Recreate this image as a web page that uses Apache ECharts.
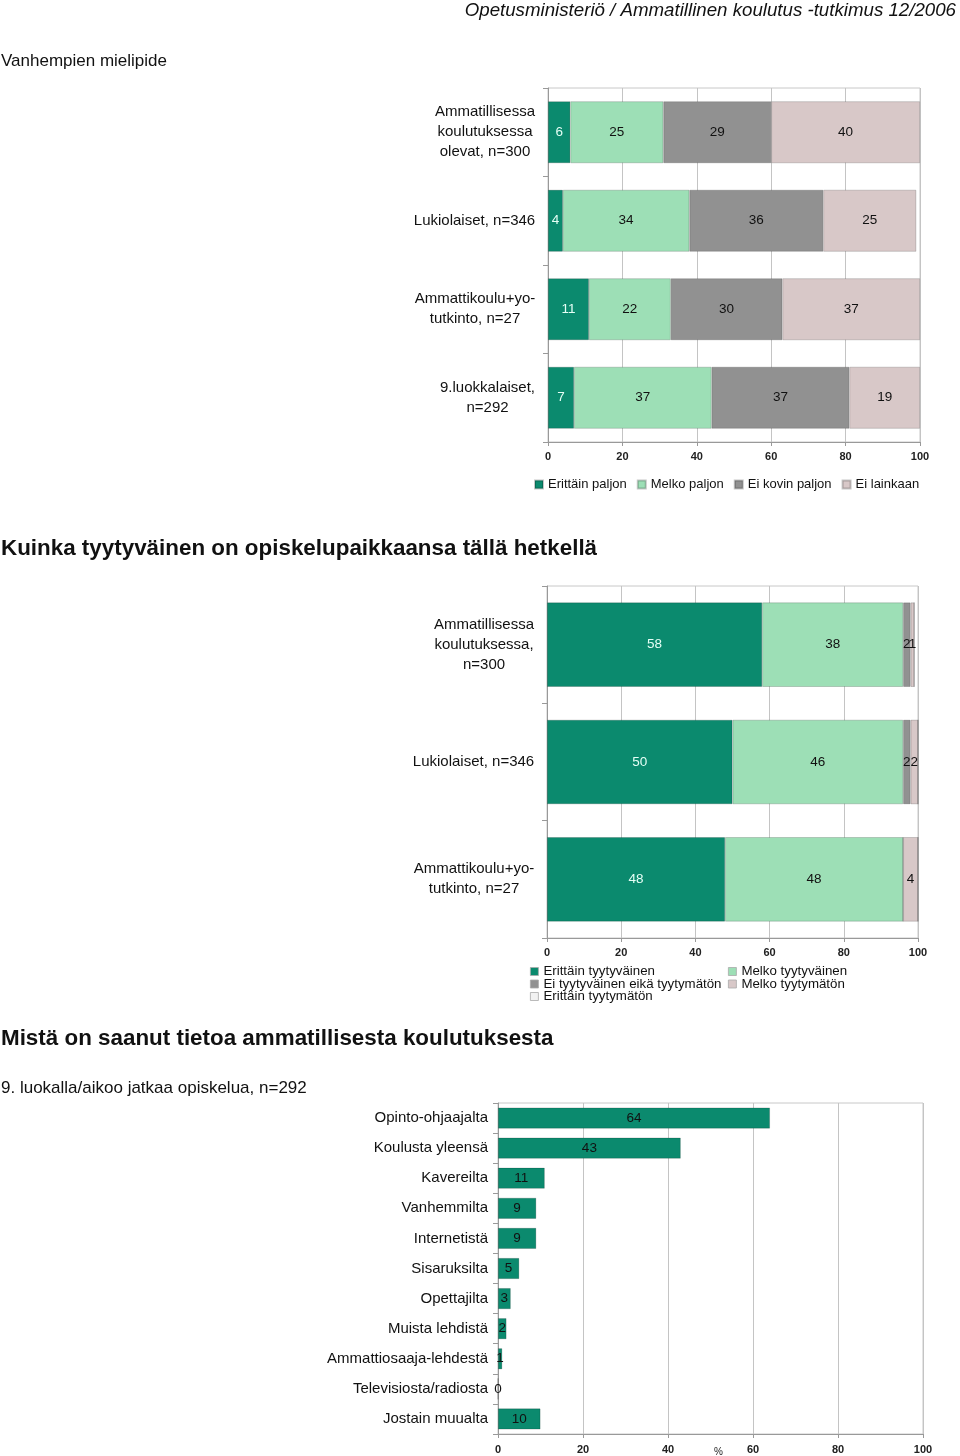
<!DOCTYPE html>
<html><head><meta charset="utf-8">
<script src="https://cdn.jsdelivr.net/npm/echarts@6/dist/echarts.min.js"></script>
<style>html,body{margin:0;padding:0;background:#fff}#c{width:960px;height:1456px}</style>
</head><body><div id="c"></div>
<script>
// ---- Chart 1: Vanhempien mielipide ----
const cats1 = ['Ammatillisessa\nkoulutuksessa\nolevat, n=300', 'Lukiolaiset, n=346', 'Ammattikoulu+yo-\ntutkinto, n=27', '9.luokkalaiset,\nn=292'];
const names1 = ['Erittäin paljon', 'Melko paljon', 'Ei kovin paljon', 'Ei lainkaan'];
const erittainPaljon = [6, 4, 11, 7];
const melkoPaljon = [25, 34, 22, 37];
const eiKovinPaljon = [29, 36, 30, 37];
const eiLainkaan = [40, 25, 37, 19];

// ---- Chart 2: Kuinka tyytyväinen ----
const cats2 = ['Ammatillisessa\nkoulutuksessa,\nn=300', 'Lukiolaiset, n=346', 'Ammattikoulu+yo-\ntutkinto, n=27'];
const names2 = ['Erittäin tyytyväinen', 'Melko tyytyväinen', 'Ei tyytyväinen eikä tyytymätön', 'Melko tyytymätön', 'Erittäin tyytymätön'];
const erittainTyytyvainen = [58, 50, 48];
const melkoTyytyvainen = [38, 46, 48];
const eiTyytyvainenEika = [2, 2, 0];
const melkoTyytymaton = [1, 2, 4];
const erittainTyytymaton = [0, 0, 0];

// ---- Chart 3: Mistä on saanut tietoa ----
const cats3 = ['Opinto-ohjaajalta', 'Koulusta yleensä', 'Kavereilta', 'Vanhemmilta', 'Internetistä', 'Sisaruksilta', 'Opettajilta', 'Muista lehdistä', 'Ammattiosaaja-lehdestä', 'Televisiosta/radiosta', 'Jostain muualta'];
const vals3 = [64, 43, 11, 9, 9, 5, 3, 2, 1, 0, 10];

const FONT = '"Liberation Sans", Arial, Helvetica, sans-serif';
const colors = ['#0b8a6e', '#9ddfb6', '#919191', '#d8c8c8', '#f2f2f2'];

// measure text to center multi-line labels
const cv = document.createElement('canvas').getContext('2d');
cv.font = '15px ' + FONT;
function richFor(cats, prefix) {
  const rich = {};
  cats.forEach((c, i) => {
    const w = Math.max(...c.split('\n').map(l => cv.measureText(l).width));
    rich[prefix + i] = { width: Math.ceil(w) + 1, align: 'center', fontSize: 15, lineHeight: 20, color: '#111', fontFamily: FONT };
  });
  return rich;
}
function fmtFor(cats, prefix) {
  return (v, i) => v.split('\n').map(l => '{' + prefix + i + '|' + l + '}').join('\n');
}

const chart = echarts.init(document.getElementById('c'), null, { renderer: 'canvas' });

function valAxis(gi, extra, margin) {
  return Object.assign({
    type: 'value', gridIndex: gi, min: 0, max: 100, interval: 20,
    axisLine: { show: true, lineStyle: { color: '#999' } },
    axisTick: { show: true, length: 4, lineStyle: { color: '#999' } },
    splitLine: { show: true, lineStyle: { color: '#c4c4c4' } },
    axisLabel: { fontFamily: FONT, fontSize: 11, fontWeight: 'bold', color: '#222', margin: margin || 9 }
  }, extra || {});
}
function catAxis(gi, cats, rich, fmt, margin) {
  return {
    type: 'category', gridIndex: gi, data: cats, inverse: true,
    axisLine: { show: true, lineStyle: { color: '#999' } },
    axisTick: { show: true, length: 5, lineStyle: { color: '#999' } },
    axisLabel: { margin: margin, align: 'right', formatter: fmt, rich: rich, fontSize: 15, fontFamily: FONT, color: '#111' }
  };
}

const lblDark = { show: true, position: 'inside', fontFamily: FONT, fontSize: 13.5, color: '#111',
  formatter: p => p.value === 0 ? '' : String(p.value) };
const lblLight = Object.assign({}, lblDark, { color: '#e6fff6' });
const border = { borderColor: 'rgba(0,0,0,0.22)', borderWidth: 0.8 };

const series = [];
[erittainPaljon, melkoPaljon, eiKovinPaljon, eiLainkaan].forEach((d, i) => {
  series.push({ name: names1[i], type: 'bar', stack: 's1', xAxisIndex: 0, yAxisIndex: 0, data: d,
    barCategoryGap: '30%', itemStyle: Object.assign({ color: colors[i] }, border),
    label: i === 0 ? lblLight : lblDark });
});
[erittainTyytyvainen, melkoTyytyvainen, eiTyytyvainenEika, melkoTyytymaton, erittainTyytymaton].forEach((d, i) => {
  series.push({ name: names2[i], type: 'bar', stack: 's2', xAxisIndex: 1, yAxisIndex: 1, data: d,
    barCategoryGap: '28%', itemStyle: Object.assign({ color: colors[i] }, border),
    label: i === 0 ? lblLight : lblDark });
});
series.push({ name: 'Mistä', type: 'bar', xAxisIndex: 2, yAxisIndex: 2, data: vals3,
  barCategoryGap: '30%', itemStyle: Object.assign({ color: colors[0] }, border),
  label: { show: true, position: 'inside', fontFamily: FONT, fontSize: 13.5, color: '#111' } });

const legendText = { fontFamily: FONT, fontSize: 13, color: '#111' };
const option = {
  animation: false,
  backgroundColor: '#fff',
  textStyle: { fontFamily: FONT },
  title: [
    { text: 'Opetusministeriö / Ammatillinen koulutus -tutkimus 12/2006', right: 4, top: 1, padding: 0,
      textStyle: { fontFamily: FONT, fontSize: 18.7, fontStyle: 'italic', fontWeight: 'normal', color: '#111' } },
    { text: 'Vanhempien mielipide', left: 1, top: 53, padding: 0,
      textStyle: { fontFamily: FONT, fontSize: 17, fontWeight: 'normal', color: '#111' } },
    { text: 'Kuinka tyytyväinen on opiskelupaikkaansa tällä hetkellä', left: 1, top: 538, padding: 0,
      textStyle: { fontFamily: FONT, fontSize: 22.4, fontWeight: 'bold', color: '#111' } },
    { text: 'Mistä on saanut tietoa ammatillisesta koulutuksesta', left: 1, top: 1028, padding: 0,
      textStyle: { fontFamily: FONT, fontSize: 22.4, fontWeight: 'bold', color: '#111' } },
    { text: '9. luokalla/aikoo jatkaa opiskelua, n=292', left: 1, top: 1080, padding: 0,
      textStyle: { fontFamily: FONT, fontSize: 17, fontWeight: 'normal', color: '#111' } }
  ],
  legend: [
    { data: names1, left: 534, top: 478, itemWidth: 8, itemHeight: 8, itemGap: 10, padding: 0,
      icon: 'rect', textStyle: legendText },
    { data: [names2[0], names2[2], names2[4]], orient: 'vertical', left: 530, top: 965, itemWidth: 8, itemHeight: 8,
      itemGap: -0.5, padding: 0, icon: 'rect', textStyle: Object.assign({}, legendText, { fontSize: 13.3, lineHeight: 12 }),
      itemStyle: { borderColor: '#aaa', borderWidth: 0.8 } },
    { data: [names2[1], names2[3]], orient: 'vertical', left: 728, top: 965, itemWidth: 8, itemHeight: 8,
      itemGap: -0.5, padding: 0, icon: 'rect', textStyle: Object.assign({}, legendText, { fontSize: 13.3, lineHeight: 12 }),
      itemStyle: { borderColor: '#aaa', borderWidth: 0.8 } }
  ],
  grid: [
    { left: 548, top: 88, width: 372, height: 354, show: true, borderColor: '#c8c8c8', borderWidth: 1, outerBoundsMode: 'none', containLabel: false },
    { left: 547, top: 586, width: 371, height: 352, show: true, borderColor: '#c8c8c8', borderWidth: 1, outerBoundsMode: 'none', containLabel: false },
    { left: 498, top: 1103, width: 425, height: 331, show: true, borderColor: '#c8c8c8', borderWidth: 1, outerBoundsMode: 'none', containLabel: false }
  ],
  xAxis: [
    valAxis(0),
    valAxis(1),
    valAxis(2, { name: '%', nameLocation: 'middle', nameGap: 13, nameMoveOverlap: false,
      nameTextStyle: { fontFamily: FONT, fontSize: 10, color: '#222', padding: [0, 0, 0, 16] } }, 10)
  ],
  yAxis: [
    catAxis(0, cats1, richFor(cats1, 'a'), fmtFor(cats1, 'a'), 12),
    catAxis(1, cats2, richFor(cats2, 'b'), fmtFor(cats2, 'b'), 12),
    catAxis(2, cats3, {}, v => v, 10)
  ],
  series: series
};
chart.setOption(option);
</script>
</body></html>
